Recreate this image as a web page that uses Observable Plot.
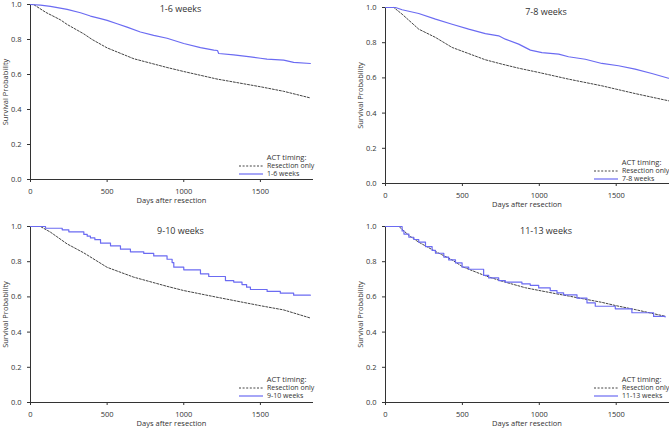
<!DOCTYPE html>
<html>
<head>
<meta charset="utf-8">
<script src="https://cdn.jsdelivr.net/npm/d3@7"></script>
<script src="https://cdn.jsdelivr.net/npm/@observablehq/plot@0.6"></script>
<style>
  html, body { margin: 0; padding: 0; background: #fff; }
  #wrap { position: relative; width: 669px; height: 429px; overflow: hidden; font-family: "Open Sans", "Liberation Sans", sans-serif; }
  .panel { position: absolute; }
  .legend { position: absolute; font-size: 7px; color: #333; line-height: 8px; white-space: nowrap; }
  .legend .hd { text-align: center; margin-left: 20px; font-size: 7.5px; height: 8.5px; line-height: 8.5px; }
  .legend .row { display: flex; align-items: center; height: 8px; white-space: nowrap; }
  .legend svg { margin-right: 4px; flex: none; }
</style>
</head>
<body>
<div id="wrap"></div>
<script>
// ---- data ----
const panelTitles = ["1-6 weeks", "7-8 weeks", "9-10 weeks", "11-13 weeks"];
const xTicks = [0, 500, 1000, 1500];
const yTicks = [0, 0.2, 0.4, 0.6, 0.8, 1.0];
const legendTitle = "ACT timing:";
const refName = "Resection only";

// Resection only (dashed) curves, [day, survival]
const ref1 = [[0,1],[20,1],[100,0.955],[196,0.912],[239,0.886],[348,0.832],[402,0.80],[500,0.752],[674,0.690],[891,0.64],[1000,0.617],[1217,0.574],[1500,0.530],[1652,0.504],[1826,0.466]];
const ref2 = [[0,1],[54,1],[108,0.962],[216,0.877],[325,0.83],[433,0.773],[504,0.75],[649,0.703],[758,0.678],[866,0.655],[996,0.631],[1190,0.593],[1407,0.555],[1500,0.536],[1623,0.511],[1840,0.47]];
const ref3 = [[0,1],[65,1],[130,0.968],[239,0.901],[348,0.850],[500,0.768],[674,0.712],[891,0.66],[1000,0.636],[1217,0.598],[1500,0.55],[1652,0.526],[1826,0.48]];
const ref4 = [[0,1],[87,1],[120,0.975],[152,0.949],[216,0.911],[325,0.858],[433,0.81],[504,0.77],[649,0.72],[758,0.689],[909,0.652],[996,0.637],[1115,0.617],[1190,0.605],[1407,0.569],[1500,0.55],[1623,0.528],[1818,0.49]];

// ACT timing group curves, [day, survival]
const act1 = [[0,1],[65,0.996],[130,0.989],[239,0.972],[326,0.953],[391,0.934],[457,0.919],[500,0.909],[565,0.890],[630,0.871],[717,0.843],[804,0.824],[891,0.807],[1000,0.777],[1109,0.754],[1196,0.739],[1220,0.737],[1228,0.720],[1326,0.712],[1435,0.701],[1500,0.693],[1543,0.688],[1652,0.682],[1717,0.669],[1826,0.663]];
const act2 = [[0,1],[65,1],[108,0.987],[216,0.966],[325,0.934],[433,0.905],[541,0.877],[649,0.852],[736,0.839],[779,0.820],[866,0.792],[942,0.758],[1017,0.744],[1126,0.735],[1190,0.72],[1299,0.706],[1407,0.682],[1515,0.669],[1623,0.65],[1732,0.625],[1840,0.598]];
const act3 = [[0,1],[98,0.99],[207,0.981],[250,0.970],[348,0.955],[370,0.945],[391,0.935],[420,0.925],[457,0.905],[522,0.89],[587,0.871],[652,0.856],[739,0.847],[804,0.833],[891,0.814],[924,0.795],[935,0.769],[1000,0.754],[1109,0.731],[1163,0.716],[1272,0.693],[1326,0.684],[1380,0.670],[1410,0.655],[1435,0.642],[1544,0.631],[1630,0.621],[1717,0.61],[1826,0.61]];
const act4 = [[0,1],[108,0.975],[120,0.957],[152,0.939],[184,0.926],[216,0.911],[260,0.886],[303,0.864],[325,0.848],[379,0.826],[411,0.81],[455,0.793],[498,0.769],[541,0.757],[638,0.722],[671,0.708],[736,0.693],[779,0.684],[887,0.674],[941,0.666],[996,0.651],[1071,0.636],[1115,0.623],[1158,0.612],[1245,0.593],[1310,0.566],[1364,0.547],[1494,0.532],[1602,0.51],[1743,0.489],[1818,0.486]];

const refs = [ref1, ref2, ref3, ref4];
const acts = [act1, act2, act3, act4];

// ---- layout ----
const BLUE = "#6b6bf2";
const layout = [
  {left: 0,   top: 0,   w: 335, h: 215, ml: 30, mr: 23, mt: 4,  mb: 36, curve: "linear",     tdx: 9,  leg: {left: 239, top: 153}},
  {left: 335, top: 0,   w: 334, h: 215, ml: 50, mr: 1,  mt: 7,  mb: 32, curve: "linear",     tdx: 19, leg: {left: 594, top: 158}},
  {left: 0,   top: 215, w: 335, h: 214, ml: 30, mr: 23, mt: 11, mb: 27, curve: "step-after", tdx: 9,  leg: {left: 239, top: 375}},
  {left: 335, top: 215, w: 334, h: 214, ml: 50, mr: 1,  mt: 11, mb: 27, curve: "step-after", tdx: 19, leg: {left: 594, top: 375}}
];

const wrap = document.getElementById("wrap");

layout.forEach((L, i) => {
  const chart = Plot.plot({
    width: L.w,
    height: L.h,
    marginLeft: L.ml,
    marginRight: L.mr,
    marginTop: L.mt,
    marginBottom: L.mb,
    style: {fontFamily: "'Open Sans', 'Liberation Sans', sans-serif", fontSize: "7.5px", color: "#333", background: "transparent", overflow: "visible"},
    x: {domain: [0, 1840], ticks: xTicks, tickFormat: d => String(d), label: "Days after resection", labelAnchor: "center", labelOffset: 23, line: true, tickSize: 3, labelArrow: "none"},
    y: {domain: [0, 1], ticks: yTicks, tickFormat: ".1f", label: "Survival Probability", labelAnchor: "center", labelOffset: 28, line: true, tickSize: 3, labelArrow: "none"},
    marks: [
      Plot.line(refs[i], {x: d => d[0], y: d => d[1], stroke: "#444", strokeWidth: 1, strokeDasharray: "2,1.6"}),
      Plot.line(acts[i], {x: d => d[0], y: d => d[1], stroke: BLUE, strokeWidth: 1.2, curve: L.curve}),
      Plot.text([panelTitles[i]], {frameAnchor: "top", dx: L.tdx, dy: 1, fontSize: 9, fill: "#333", fontWeight: "normal"})
    ]
  });
  chart.classList.add("panel");
  chart.style.left = L.left + "px";
  chart.style.top = L.top + "px";
  wrap.appendChild(chart);

  // legend
  const lg = document.createElement("div");
  lg.className = "legend";
  lg.style.left = L.leg.left + "px";
  lg.style.top = L.leg.top + "px";
  lg.innerHTML =
    `<div class="hd">${legendTitle}</div>` +
    `<div class="row"><svg width="24" height="4"><line x1="0" y1="2" x2="24" y2="2" stroke="#444" stroke-width="1" stroke-dasharray="2,1.6"/></svg>${refName}</div>` +
    `<div class="row"><svg width="24" height="4"><line x1="0" y1="2" x2="24" y2="2" stroke="${BLUE}" stroke-width="1.2"/></svg>${panelTitles[i]}</div>`;
  wrap.appendChild(lg);
});
</script>
</body>
</html>
